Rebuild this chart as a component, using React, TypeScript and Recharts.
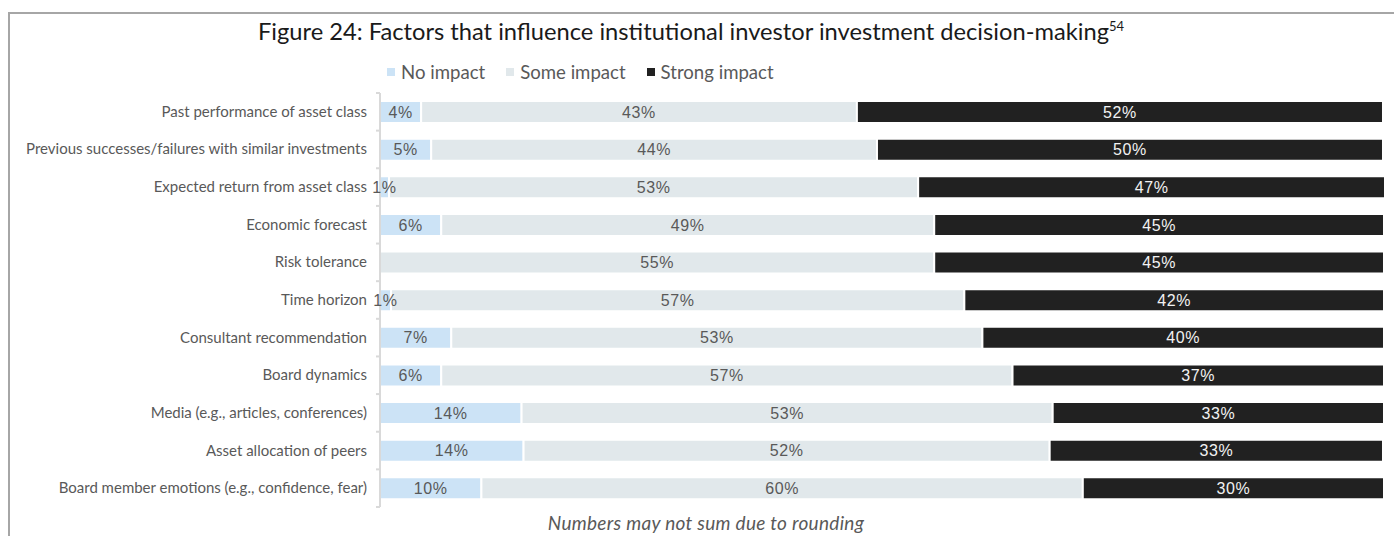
import React from 'react';
import { BarChart, Bar, XAxis, YAxis, LabelList } from 'recharts';

/** Stacked horizontal bars: impact of factors on institutional investor decisions. */

const categories = [
  'Past performance of asset class',
  'Previous successes/failures with similar investments',
  'Expected return from asset class',
  'Economic forecast',
  'Risk tolerance',
  'Time horizon',
  'Consultant recommendation',
  'Board dynamics',
  'Media (e.g., articles, conferences)',
  'Asset allocation of peers',
  'Board member emotions (e.g., confidence, fear)',
];

// shares in % (labels are rounded)
const noImpact = [4.1, 5.1, 0.9, 6.1, 0, 1.1, 7.1, 6.1, 14.1, 14.3, 10.1];
const someImpact = [43.4, 44.4, 52.7, 49.1, 55.2, 57.1, 52.9, 56.9, 52.9, 52.4, 59.9];
const strongImpact = [52.4, 50.4, 46.5, 44.8, 44.8, 41.8, 40.0, 37.0, 33.0, 33.2, 30.0];

const seriesNames = ['No impact', 'Some impact', 'Strong impact'];
const COLORS = ['#cce3f6', '#e1e8eb', '#212121'];

const data = categories.map((name, i) => ({
  name,
  noImpact: noImpact[i],
  someImpact: someImpact[i],
  strongImpact: strongImpact[i],
}));

const W = 1394;
const H = 536;
const MARGIN = { top: 93, right: 9, bottom: 29, left: 0 };
const AXIS_W = 380;
const BAND = (H - MARGIN.top - MARGIN.bottom) / categories.length;
const GREY = '#595959';
const FONT = 'Lato, "Open Sans", sans-serif';

const pct = (v: any) => (Number(v) > 0 ? `${Math.round(Number(v))}%` : '');

function CategoryTick(props: any) {
  const { y, payload, index } = props;
  const half = BAND / 2;
  return (
    <g>
      <line x1={AXIS_W - 4} x2={AXIS_W} y1={y - half} y2={y - half} stroke="#d9d9d9" strokeWidth={2} />
      {index === categories.length - 1 && (
        <line x1={AXIS_W - 4} x2={AXIS_W} y1={y + half} y2={y + half} stroke="#d9d9d9" strokeWidth={2} />
      )}
      <text x={AXIS_W - 13} y={y} dy={5} textAnchor="end" fill={GREY} fontSize={15} fontFamily={FONT}>
        {payload.value}
      </text>
    </g>
  );
}

export default function App() {
  const labelStyle = {
    fontSize: 16,
    fontFamily: '"Liberation Sans", Arial, sans-serif',
    letterSpacing: 0.6,
    stroke: 'none',
  };
  return (
    <div style={{ position: 'absolute', left: 0, top: 0, width: W, height: H, background: '#fff', overflow: 'hidden' }}>
      <div
        style={{
          position: 'absolute',
          left: 8,
          top: 12,
          width: 2000,
          height: 1000,
          borderLeft: '2px solid #a6a6a6',
          borderTop: '2px solid #a6a6a6',
        }}
      />
      <div
        style={{
          position: 'absolute',
          left: 258,
          top: 17,
          whiteSpace: 'nowrap',
          fontFamily: FONT,
          fontSize: 23.7,
          color: '#1a1a1a',
        }}
      >
        Figure 24: Factors that influence institutional investor investment decision-making
        <sup style={{ fontSize: 13 }}>54</sup>
      </div>
      <div
        style={{
          position: 'absolute',
          left: 387,
          top: 61,
          display: 'flex',
          alignItems: 'center',
          fontFamily: FONT,
          fontSize: 18.6,
          color: GREY,
          whiteSpace: 'nowrap',
        }}
      >
        {seriesNames.map((n, i) => (
          <div key={n} style={{ display: 'flex', alignItems: 'center', marginRight: 21 }}>
            <span style={{ width: 8, height: 8, background: COLORS[i], display: 'inline-block', marginRight: 6 }} />
            <span>{n}</span>
          </div>
        ))}
      </div>
      <div
        style={{
          position: 'absolute',
          left: 0,
          width: 1412,
          top: 511,
          textAlign: 'center',
          fontFamily: FONT,
          fontStyle: 'italic',
          fontSize: 19,
          letterSpacing: 0.3,
          color: GREY,
        }}
      >
        Numbers may not sum due to rounding
      </div>
      <div style={{ position: 'absolute', left: 0, top: 0 }}>
        <BarChart width={W} height={H} data={data} layout="vertical" margin={MARGIN} barSize={22}>
          <XAxis type="number" domain={[0, 100]} hide />
          <YAxis
            type="category"
            dataKey="name"
            width={AXIS_W}
            axisLine={{ stroke: '#d9d9d9', strokeWidth: 2 }}
            tickLine={false}
            tick={<CategoryTick />}
            interval={0}
          />
          <Bar dataKey="noImpact" name={seriesNames[0]} stackId="a" fill={COLORS[0]} stroke="#fff" strokeWidth={2} isAnimationActive={false}>
            <LabelList dataKey="noImpact" position="center" formatter={pct} fill={GREY} {...labelStyle} />
          </Bar>
          <Bar dataKey="someImpact" name={seriesNames[1]} stackId="a" fill={COLORS[1]} stroke="#fff" strokeWidth={2} isAnimationActive={false}>
            <LabelList dataKey="someImpact" position="center" formatter={pct} fill={GREY} {...labelStyle} />
          </Bar>
          <Bar dataKey="strongImpact" name={seriesNames[2]} stackId="a" fill={COLORS[2]} stroke="#fff" strokeWidth={2} isAnimationActive={false}>
            <LabelList dataKey="strongImpact" position="center" formatter={pct} fill="#f2f2f2" {...labelStyle} />
          </Bar>
        </BarChart>
      </div>
    </div>
  );
}
